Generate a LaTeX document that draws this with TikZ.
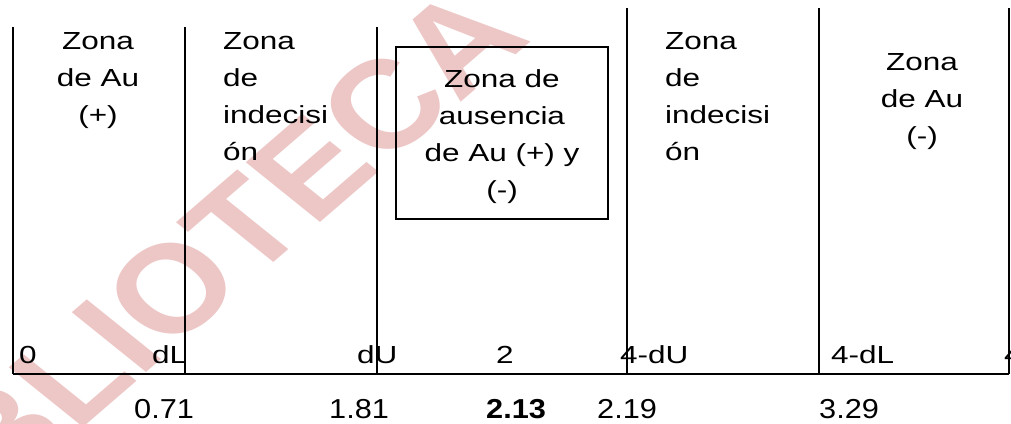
\documentclass[tikz,border=0pt]{standalone}
\usepackage{fontspec}
\setmainfont{Liberation Sans}
\newfontfamily\zonefont{Liberation Sans}[FakeStretch=1.275]
\newfontfamily\valfont{Liberation Sans}[FakeStretch=1.12]
\usetikzlibrary{positioning}
\definecolor{marcapink}{HTML}{EDC6C6}
\tikzset{
  divline/.style={
    line width=1.6pt,
    draw=black
  },
  zonetext/.style={
    inner sep=0pt,
    font=\zonefont\fontsize{24.7}{37}\selectfont
  },
  zonebox/.style={
    draw=black,
    line width=1.4pt,
    minimum width=212pt,
    minimum height=172pt,
    inner sep=0pt,
    align=center,
    font=\zonefont\fontsize{24.7}{37}\selectfont
  },
  marklabel/.style={
    anchor=base west,
    inner sep=0pt,
    font=\zonefont\fontsize{24.7}{30}\selectfont
  },
  valuelabel/.style={
    anchor=base west,
    inner sep=0pt,
    font=\valfont\fontsize{27.4}{33}\selectfont
  }
}

\begin{document}
\begin{tikzpicture}[x=1pt,y=-1pt]
\useasboundingbox (0,0) rectangle (1011,423);
% marca de agua
\begin{scope}
\clip (0,0) rectangle (1011,423);
\node[text=marcapink, inner sep=0pt, xscale=1.2, rotate=46,
  font=\bfseries\fontsize{125}{125}\selectfont] (marca) at (178,284) {BIBLIOTECA};
\end{scope}
% lineas de division y eje
\foreach \name/\x/\top in {la/13/27, lb/185/27, lc/377/27, ld/627/8, le/819/8, lf/1009/8}{
  \coordinate (\name-top) at (\x,\top);
  \coordinate (\name-bot) at (\x,374);
  \draw[divline] (\name-top) -- (\name-bot);
}
\draw[divline] (la-bot) -- (lf-bot);
% zonas (ancladas en la ultima linea)
\node[zonetext, align=center, anchor=base] (auMas) at (98,123) {Zona\\de Au\\(+)};
\node[zonetext, align=left, anchor=base west] (indecA) at (223,160) {Zona\\de\\indecisi\\ón};
\node[zonebox] (ausencia) at (502,133) {\strut Zona de\\ausencia\\de Au (+) y\\(-)};
\node[zonetext, align=left, anchor=base west] (indecB) at (665,160) {Zona\\de\\indecisi\\ón};
\node[zonetext, align=center, anchor=base] (auMenos) at (922,144) {Zona\\de Au\\(-)};
% marcas sobre el eje
\node[marklabel] (m0) at (19,363) {0};
\node[marklabel] (mdL) at (152,363) {dL};
\node[marklabel] (mdU) at (357,363) {dU};
\node[marklabel] (m2) at (496,363) {2};
\node[marklabel] (m4dU) at (620,363) {4-dU};
\node[marklabel] (m4dL) at (831,363) {4-dL};
\node[marklabel] (m4) at (1004,363) {4};
% valores
\node[valuelabel] (v071) at (134,418) {0.71};
\node[valuelabel] (v181) at (329,418) {1.81};
\node[valuelabel] (v213) at (486,418) {\bfseries 2.13};
\node[valuelabel] (v219) at (597,418) {2.19};
\node[valuelabel] (v329) at (819,418) {3.29};
\end{tikzpicture}
\end{document}
